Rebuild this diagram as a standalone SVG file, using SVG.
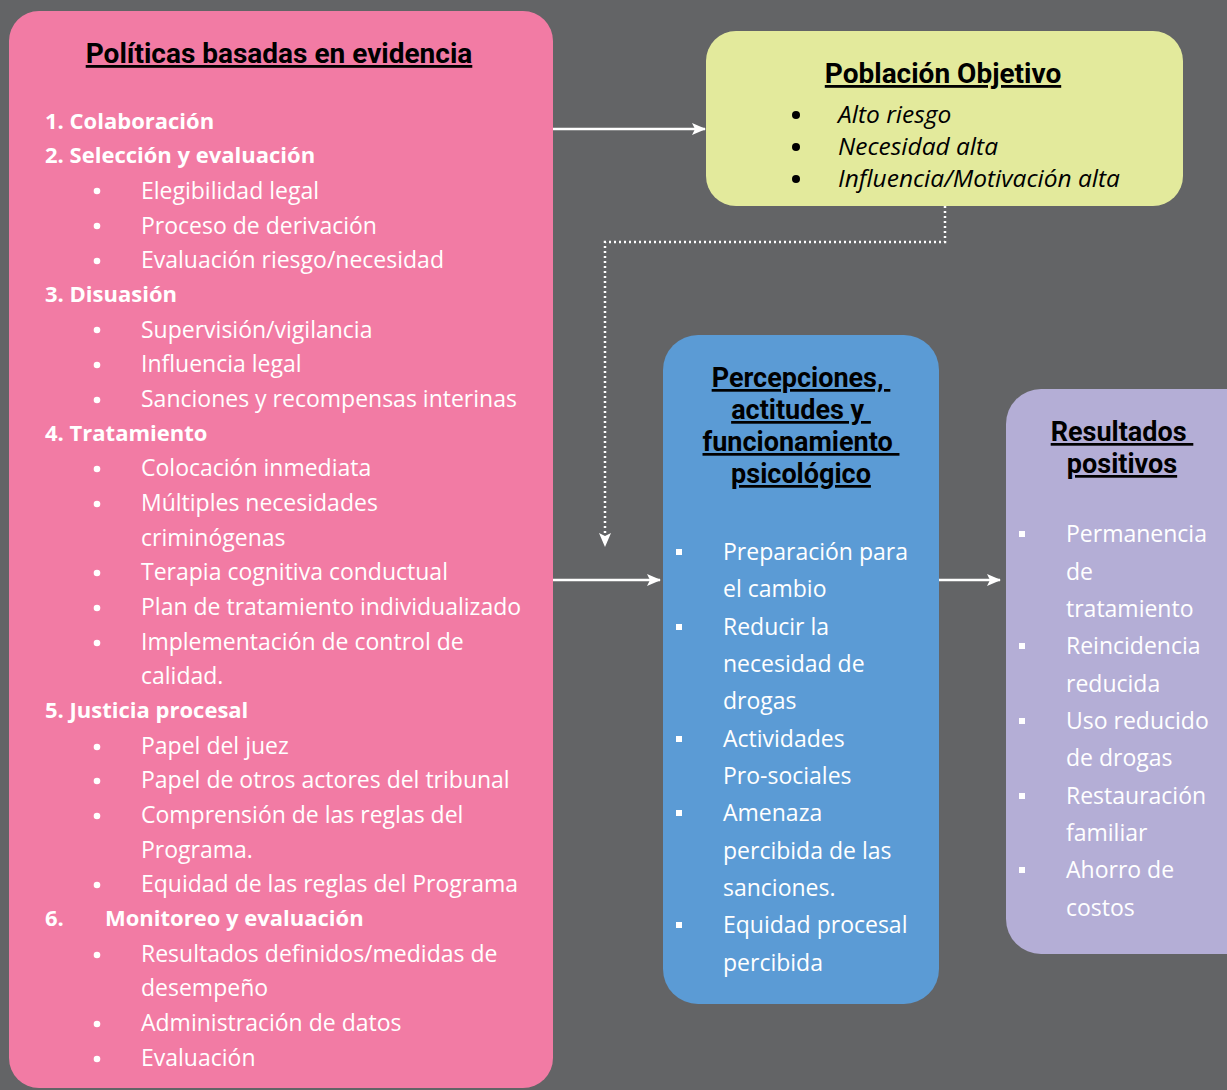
<svg xmlns="http://www.w3.org/2000/svg" width="1227" height="1090" viewBox="0 0 1227 1090">
<defs>
<marker id="arr" viewBox="0 0 14 12" refX="13" refY="6" markerWidth="14" markerHeight="12" markerUnits="userSpaceOnUse" orient="auto">
<path d="M0,0 L14,6 L0,12 L3,6 Z" fill="#ffffff"/>
</marker>
<style>
.body{font-family:"Open Sans","Noto Sans",sans-serif;font-size:23px;fill:#ffffff}
.num{font-family:"Open Sans","Noto Sans",sans-serif;font-size:22px;font-weight:bold;fill:#ffffff}
.title{font-family:Roboto,"Open Sans",sans-serif;font-size:28px;font-weight:bold;fill:#000000;text-decoration:underline;white-space:pre}
.t2{font-size:27px}
.ital{font-family:"Open Sans","Noto Sans",sans-serif;font-size:24.5px;font-style:italic;fill:#000000}
.bl{font-family:"Open Sans","Noto Sans",sans-serif;font-size:23px;fill:#ffffff}
.conn{stroke:#ffffff;stroke-width:2.5;fill:none}
</style>
</defs>
<rect x="0" y="0" width="1227" height="1090" fill="#636466"/>

<g id="connectors">
<line class="conn" x1="553" y1="129" x2="705" y2="129" marker-end="url(#arr)"/>
<line class="conn" x1="553" y1="580" x2="660" y2="580" marker-end="url(#arr)"/>
<line class="conn" x1="939" y1="580" x2="1000" y2="580" marker-end="url(#arr)"/>
<path class="conn" d="M945,206 L945,242 L605,242 L605,546" stroke-dasharray="2 3" marker-end="url(#arr)"/>
</g>

<g id="politicas">
<rect x="9" y="11" width="544" height="1077" rx="30" fill="#f27ba4"/>
<text class="title" x="279" y="63" text-anchor="middle">Políticas basadas en evidencia</text>
<g fill="#ffffff">
<circle cx="97" cy="191" r="3.3"/><circle cx="97" cy="226" r="3.3"/><circle cx="97" cy="261" r="3.3"/>
<circle cx="97" cy="330" r="3.3"/><circle cx="97" cy="365" r="3.3"/><circle cx="97" cy="400" r="3.3"/>
<circle cx="97" cy="469" r="3.3"/><circle cx="97" cy="504" r="3.3"/><circle cx="97" cy="573" r="3.3"/>
<circle cx="97" cy="608" r="3.3"/><circle cx="97" cy="643" r="3.3"/>
<circle cx="97" cy="747" r="3.3"/><circle cx="97" cy="781" r="3.3"/><circle cx="97" cy="816" r="3.3"/>
<circle cx="97" cy="885" r="3.3"/>
<circle cx="97" cy="955" r="3.3"/><circle cx="97" cy="1024" r="3.3"/><circle cx="97" cy="1059" r="3.3"/>
</g>
<text class="num" x="45" y="129">1. Colaboración</text>
<text class="num" x="45" y="163">2. Selección y evaluación</text>
<text class="body" x="141" y="199">Elegibilidad legal</text>
<text class="body" x="141" y="234">Proceso de derivación</text>
<text class="body" x="141" y="268">Evaluación riesgo/necesidad</text>
<text class="num" x="45" y="302">3. Disuasión</text>
<text class="body" x="141" y="338">Supervisión/vigilancia</text>
<text class="body" x="141" y="372">Influencia legal</text>
<text class="body" x="141" y="407">Sanciones y recompensas interinas</text>
<text class="num" x="45" y="441">4. Tratamiento</text>
<text class="body" x="141" y="476">Colocación inmediata</text>
<text class="body" x="141" y="511">Múltiples necesidades</text>
<text class="body" x="141" y="546">criminógenas</text>
<text class="body" x="141" y="580">Terapia cognitiva conductual</text>
<text class="body" x="141" y="615">Plan de tratamiento individualizado</text>
<text class="body" x="141" y="650">Implementación de control de</text>
<text class="body" x="141" y="684">calidad.</text>
<text class="num" x="45" y="718">5. Justicia procesal</text>
<text class="body" x="141" y="754">Papel del juez</text>
<text class="body" x="141" y="788">Papel de otros actores del tribunal</text>
<text class="body" x="141" y="823">Comprensión de las reglas del</text>
<text class="body" x="141" y="858">Programa.</text>
<text class="body" x="141" y="892">Equidad de las reglas del Programa</text>
<text class="num" x="45" y="926">6.</text>
<text class="num" x="105" y="926">Monitoreo y evaluación</text>
<text class="body" x="141" y="962">Resultados definidos/medidas de</text>
<text class="body" x="141" y="996">desempeño</text>
<text class="body" x="141" y="1031">Administración de datos</text>
<text class="body" x="141" y="1066">Evaluación</text>
</g>

<g id="poblacion">
<rect x="706" y="31" width="477" height="175" rx="30" fill="#e3ea9c"/>
<text class="title" x="943" y="83" text-anchor="middle">Población Objetivo</text>
<g fill="#000000">
<circle cx="796" cy="115" r="4"/><circle cx="796" cy="147" r="4"/><circle cx="796" cy="179" r="4"/>
</g>
<text class="ital" x="838" y="123">Alto riesgo</text>
<text class="ital" x="838" y="155">Necesidad alta</text>
<text class="ital" x="838" y="187">Influencia/Motivación alta</text>
</g>

<g id="percepciones">
<rect x="663" y="335" width="276" height="669" rx="35" fill="#5b9bd5"/>
<text class="title t2" x="801" y="387" text-anchor="middle">Percepciones, </text>
<text class="title t2" x="801" y="419" text-anchor="middle">actitudes y </text>
<text class="title t2" x="801" y="451" text-anchor="middle">funcionamiento </text>
<text class="title t2" x="801" y="483" text-anchor="middle">psicológico</text>
<g fill="#ffffff">
<rect x="676" y="549" width="6" height="6"/><rect x="676" y="624" width="6" height="6"/>
<rect x="676" y="736" width="6" height="6"/><rect x="676" y="810" width="6" height="6"/>
<rect x="676" y="922" width="6" height="6"/>
</g>
<text class="bl" x="723" y="560">Preparación para</text>
<text class="bl" x="723" y="597">el cambio</text>
<text class="bl" x="723" y="635">Reducir la</text>
<text class="bl" x="723" y="672">necesidad de</text>
<text class="bl" x="723" y="709">drogas</text>
<text class="bl" x="723" y="747">Actividades</text>
<text class="bl" x="723" y="784">Pro-sociales</text>
<text class="bl" x="723" y="821">Amenaza</text>
<text class="bl" x="723" y="859">percibida de las</text>
<text class="bl" x="723" y="896">sanciones.</text>
<text class="bl" x="723" y="933">Equidad procesal</text>
<text class="bl" x="723" y="971">percibida</text>
</g>

<g id="resultados">
<rect x="1006" y="389" width="260" height="565" rx="35" fill="#b4aed6"/>
<text class="title t2" x="1122" y="441" text-anchor="middle">Resultados </text>
<text class="title t2" x="1122" y="473" text-anchor="middle">positivos</text>
<g fill="#ffffff">
<rect x="1019" y="531" width="6" height="6"/><rect x="1019" y="643" width="6" height="6"/>
<rect x="1019" y="718" width="6" height="6"/><rect x="1019" y="793" width="6" height="6"/>
<rect x="1019" y="867" width="6" height="6"/>
</g>
<text class="bl" x="1066" y="542">Permanencia</text>
<text class="bl" x="1066" y="580">de</text>
<text class="bl" x="1066" y="617">tratamiento</text>
<text class="bl" x="1066" y="654">Reincidencia</text>
<text class="bl" x="1066" y="692">reducida</text>
<text class="bl" x="1066" y="729">Uso reducido</text>
<text class="bl" x="1066" y="766">de drogas</text>
<text class="bl" x="1066" y="804">Restauración</text>
<text class="bl" x="1066" y="841">familiar</text>
<text class="bl" x="1066" y="878">Ahorro de</text>
<text class="bl" x="1066" y="916">costos</text>
</g>
</svg>
